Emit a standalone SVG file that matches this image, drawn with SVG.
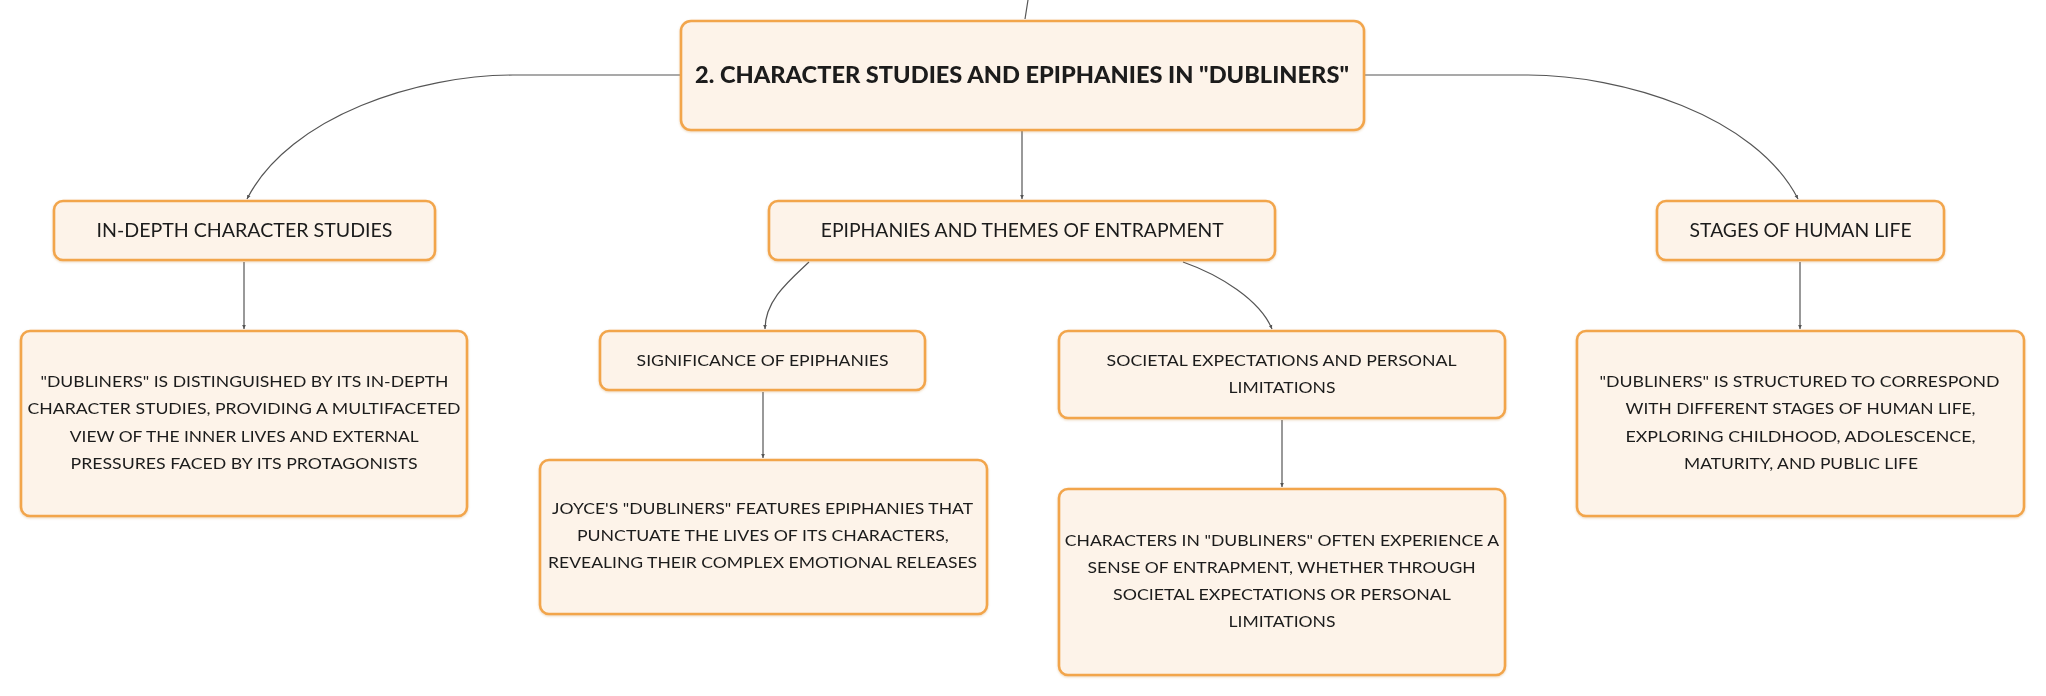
<svg xmlns="http://www.w3.org/2000/svg" width="2046" height="696" viewBox="0 0 2046 696">
<style>
.node rect{fill:#FDF3E9;stroke:#F2A54B;stroke-width:2.6}
.t{font-family:Lato,"Noto Sans","Liberation Sans",sans-serif;fill:#1b1b1b;text-anchor:middle}
.l2{font-size:18.5px}
.lf{font-size:15.5px}
.root{font-size:22px;font-weight:900}
.edges path{fill:none;stroke:#555;stroke-width:1.2}
</style>
<defs>
<marker id="arr" markerUnits="userSpaceOnUse" markerWidth="5" markerHeight="5" refX="4" refY="2.5" orient="auto">
<path d="M0,0.7 L4,2.5 L0,4.3 z" fill="#555"/>
</marker>
<filter id="sh" x="-5%" y="-5%" width="110%" height="120%">
<feDropShadow dx="0" dy="1" stdDeviation="0.8" flood-color="#c98a3c" flood-opacity="0.35"/>
</filter>
</defs>
<rect width="2046" height="696" fill="#ffffff"/>
<g class="edges">
<path d="M1028,0 L1025,19"/>
<path d="M680,75 H513 C420,75 290,115 247,199" marker-end="url(#arr)"/>
<path d="M1365,75 H1528 C1621,75 1755,115 1798,199" marker-end="url(#arr)"/>
<path d="M1022,131 V199" marker-end="url(#arr)"/>
<path d="M244,262 V329" marker-end="url(#arr)"/>
<path d="M809,262 C790,280 765,300 765,329" marker-end="url(#arr)"/>
<path d="M1183,262 C1220,275 1260,300 1272,329" marker-end="url(#arr)"/>
<path d="M763,392 V458" marker-end="url(#arr)"/>
<path d="M1282,420 V487" marker-end="url(#arr)"/>
<path d="M1800,262 V329" marker-end="url(#arr)"/>
</g>
<g id="root" class="node" filter="url(#sh)">
<rect x="681" y="21" width="683" height="109" rx="10"/>
<text class="t root" x="1022" y="83" textLength="654" lengthAdjust="spacingAndGlyphs">2. CHARACTER STUDIES AND EPIPHANIES IN "DUBLINERS"</text>
</g>
<g id="n_indepth" class="node" filter="url(#sh)">
<rect x="54" y="201" width="381" height="59" rx="9"/>
<text class="t l2" x="244.5" y="236.6" textLength="296" lengthAdjust="spacingAndGlyphs">IN-DEPTH CHARACTER STUDIES</text>
</g>
<g id="n_epiph" class="node" filter="url(#sh)">
<rect x="769" y="201" width="506" height="59" rx="9"/>
<text class="t l2" x="1022.3" y="236.6" textLength="403" lengthAdjust="spacingAndGlyphs">EPIPHANIES AND THEMES OF ENTRAPMENT</text>
</g>
<g id="n_stages" class="node" filter="url(#sh)">
<rect x="1657" y="201" width="287" height="59" rx="9"/>
<text class="t l2" x="1800.6" y="236.6" textLength="222" lengthAdjust="spacingAndGlyphs">STAGES OF HUMAN LIFE</text>
</g>
<g id="leaf_indepth" class="node" filter="url(#sh)">
<rect x="21" y="331" width="446" height="185" rx="9"/>
<text class="t lf" x="244.5" y="387" textLength="408" lengthAdjust="spacingAndGlyphs">"DUBLINERS" IS DISTINGUISHED BY ITS IN-DEPTH</text>
<text class="t lf" x="244" y="414.2" textLength="433" lengthAdjust="spacingAndGlyphs">CHARACTER STUDIES, PROVIDING A MULTIFACETED</text>
<text class="t lf" x="244.3" y="441.5" textLength="349" lengthAdjust="spacingAndGlyphs">VIEW OF THE INNER LIVES AND EXTERNAL</text>
<text class="t lf" x="244" y="468.7" textLength="347" lengthAdjust="spacingAndGlyphs">PRESSURES FACED BY ITS PROTAGONISTS</text>
</g>
<g id="n_signif" class="node" filter="url(#sh)">
<rect x="600" y="331" width="325" height="59" rx="9"/>
<text class="t lf" x="762.6" y="365.6" textLength="252" lengthAdjust="spacingAndGlyphs">SIGNIFICANCE OF EPIPHANIES</text>
</g>
<g id="n_societal" class="node" filter="url(#sh)">
<rect x="1059" y="331" width="446" height="87" rx="9"/>
<text class="t lf" x="1281.6" y="365.6" textLength="350" lengthAdjust="spacingAndGlyphs">SOCIETAL EXPECTATIONS AND PERSONAL</text>
<text class="t lf" x="1282" y="392.6" textLength="107" lengthAdjust="spacingAndGlyphs">LIMITATIONS</text>
</g>
<g id="leaf_joyce" class="node" filter="url(#sh)">
<rect x="540" y="460" width="447" height="154" rx="9"/>
<text class="t lf" x="762.6" y="514.3" textLength="421" lengthAdjust="spacingAndGlyphs">JOYCE'S "DUBLINERS" FEATURES EPIPHANIES THAT</text>
<text class="t lf" x="762.9" y="541.3" textLength="372" lengthAdjust="spacingAndGlyphs">PUNCTUATE THE LIVES OF ITS CHARACTERS,</text>
<text class="t lf" x="762.6" y="568.3" textLength="429" lengthAdjust="spacingAndGlyphs">REVEALING THEIR COMPLEX EMOTIONAL RELEASES</text>
</g>
<g id="leaf_chars" class="node" filter="url(#sh)">
<rect x="1059" y="489" width="446" height="186" rx="9"/>
<text class="t lf" x="1282" y="546.3" textLength="434.5" lengthAdjust="spacingAndGlyphs">CHARACTERS IN "DUBLINERS" OFTEN EXPERIENCE A</text>
<text class="t lf" x="1281.6" y="573.3" textLength="388" lengthAdjust="spacingAndGlyphs">SENSE OF ENTRAPMENT, WHETHER THROUGH</text>
<text class="t lf" x="1282" y="600.3" textLength="338" lengthAdjust="spacingAndGlyphs">SOCIETAL EXPECTATIONS OR PERSONAL</text>
<text class="t lf" x="1282" y="627.3" textLength="107" lengthAdjust="spacingAndGlyphs">LIMITATIONS</text>
</g>
<g id="leaf_stages" class="node" filter="url(#sh)">
<rect x="1577" y="331" width="447" height="185" rx="9"/>
<text class="t lf" x="1799.5" y="387" textLength="400" lengthAdjust="spacingAndGlyphs">"DUBLINERS" IS STRUCTURED TO CORRESPOND</text>
<text class="t lf" x="1800.5" y="414.2" textLength="350" lengthAdjust="spacingAndGlyphs">WITH DIFFERENT STAGES OF HUMAN LIFE,</text>
<text class="t lf" x="1800.5" y="441.5" textLength="350" lengthAdjust="spacingAndGlyphs">EXPLORING CHILDHOOD, ADOLESCENCE,</text>
<text class="t lf" x="1801" y="468.7" textLength="234" lengthAdjust="spacingAndGlyphs">MATURITY, AND PUBLIC LIFE</text>
</g>
</svg>
